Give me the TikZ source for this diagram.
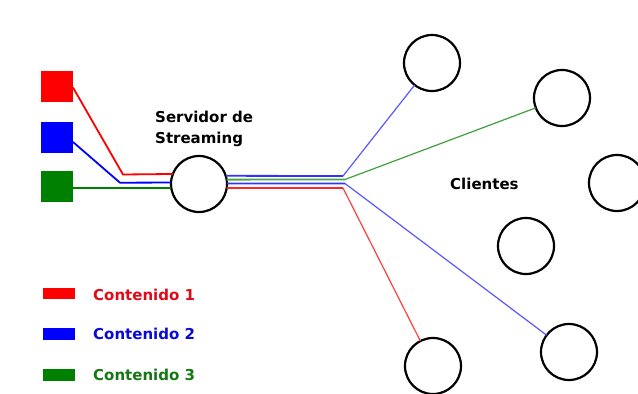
\documentclass[tikz,border=0pt]{standalone}
\usepackage{fontspec}
\setmainfont{DejaVu Sans}
\definecolor{cred}{RGB}{255,0,0}
\definecolor{cblue}{RGB}{0,0,255}
\definecolor{cgreen}{RGB}{0,128,0}
\definecolor{tred}{RGB}{225,10,25}
\definecolor{tblue}{RGB}{10,10,215}
\definecolor{tgreen}{RGB}{20,120,20}
\begin{document}
\begin{tikzpicture}[x=1pt,y=-1pt,
  source/.style={rectangle,minimum width=32pt,minimum height=31pt,inner sep=0pt,outer sep=0pt},
  host/.style={circle,draw=black,line width=2.2pt,minimum size=56pt,inner sep=0pt,outer sep=0pt},
  lbl/.style={font=\bfseries\fontsize{15}{21}\selectfont,inner sep=0pt,anchor=base west,align=left},
  feed/.style={line width=1.8pt},
  thin/.style={line width=1.2pt},
  key/.style={rectangle,minimum width=32pt,minimum height=11.5pt,inner sep=0pt}]
  \fill[white] (0,0) rectangle (638,394);
  \useasboundingbox (0,0) rectangle (638,394);

  % content sources
  \node[source,fill=cred]   (s1) at (57,86.5) {};
  \node[source,fill=cblue]  (s2) at (57,137) {};
  \node[source,fill=cgreen] (s3) at (57,186) {};

  % streaming server (base anchor sits on the last line)
  \node[host] (srv) at (199,184) {};
  \node[lbl] (srvtxt) at (155,143.5) {Servidor de\\Streaming};

  % clients
  \node[host] (c1) at (432,63) {};
  \node[host] (c2) at (562,98) {};
  \node[host] (c3) at (617,183) {};
  \node[host] (c4) at (526,246) {};
  \node[host] (c5) at (433,366) {};
  \node[host] (c6) at (569,352) {};
  \node[lbl] (cltxt) at (450,189) {Clientes};

  % bends and fork points
  \coordinate (b1) at (123,174.5);
  \coordinate (b2) at (120,182.7);
  \coordinate (f1) at (343,176);
  \coordinate (f2) at (345,179.5);
  \coordinate (f3) at (345,183.5);
  \coordinate (f4) at (343,188);

  % feeds into the server (yshift is on the page, so negative means lower)
  \draw[feed,cred]   ([yshift=-1pt]s1.east) -- (b1) -- (srv.159);
  \draw[feed,cblue]  ([yshift=-5pt]s2.east) -- (b2) -- (srv.177);
  \draw[feed,cgreen] (s3.east |- srv.188) -- (srv.188);

  % streams out of the server
  \draw[feed,cblue!80]  (srv.17) -- (f1);
  \draw[feed,cgreen!70] (srv.9) -- (f2);
  \draw[feed,cblue!80]  (srv.1) -- (f3);
  \draw[feed,cred!85]   (srv.352) -- (f4);

  \draw[thin,cblue!65]  (f1) -- (c1);
  \draw[thin,cgreen!75] (f2) -- (c2);
  \draw[thin,cblue!65]  (f3) -- (c6);
  \draw[thin,cred!75]   (f4) -- (c5);

  % legend
  \node[key,fill=cred]   (k1) at (59,293.5) {};
  \node[key,fill=cblue]  (k2) at (59,334) {};
  \node[key,fill=cgreen] (k3) at (59,375) {};
  \node[lbl,text=tred]   (t1) at (93,300) {Contenido 1};
  \node[lbl,text=tblue]  (t2) at (93,339.5) {Contenido 2};
  \node[lbl,text=tgreen] (t3) at (93,380) {Contenido 3};
\end{tikzpicture}
\end{document}
